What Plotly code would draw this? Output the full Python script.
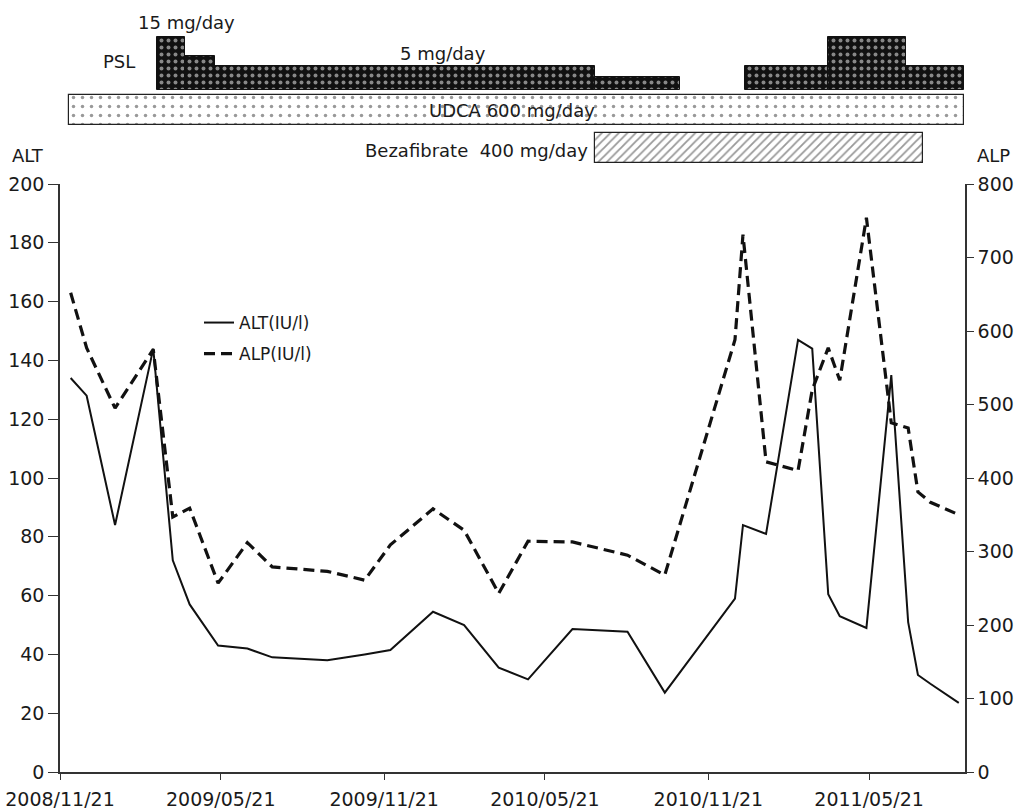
import pandas as pd
import plotly.graph_objects as go

# ---------------- data ----------------
dates = ["2008-12-03", "2008-12-21", "2009-01-22", "2009-03-06", "2009-03-28", "2009-04-07",
         "2009-04-16", "2009-05-18", "2009-06-20", "2009-07-18", "2009-09-18", "2009-10-30",
         "2009-11-28", "2010-01-15", "2010-02-19", "2010-03-30", "2010-05-02", "2010-06-21",
         "2010-08-22", "2010-10-03", "2010-12-21", "2010-12-30", "2011-01-25", "2011-03-02",
         "2011-03-18", "2011-04-05", "2011-04-18", "2011-05-18", "2011-06-15", "2011-07-04",
         "2011-07-15", "2011-07-29", "2011-08-30"]
alt = [134, 128, 84, 144, 72, 64, 57, 43, 42, 39, 38, 40, 41.5, 54.5, 50, 35.5, 31.5, 48.6,
       47.7, 27, 59, 84, 81, 147, 144, 60.5, 53, 49, 135, 51, 33, 30, 23.5]
alp = [652, 577, 495, 575, 347, 353, 359, 257, 312, 279, 273, 261, 309, 358, 329, 243, 314, 313,
       295, 268, 588, 731, 422, 410, 520, 577, 533, 754, 475, 468, 381, 367, 350]

x_ticks = ["2008-11-21", "2009-05-21", "2009-11-21", "2010-05-21", "2010-11-21", "2011-05-21"]
x_tick_labels = ["2008/11/21", "2009/05/21", "2009/11/21", "2010/05/21", "2010/11/21", "2011/05/21"]
x_range = ["2008-11-21", "2011-09-06"]

# PSL periods (start, end) and relative bar height
psl_start = ["2009-03-10", "2009-04-11", "2009-05-14", "2010-07-16", "2011-01-01", "2011-04-05", "2011-07-02"]
psl_end = ["2009-04-11", "2009-05-14", "2010-07-16", "2010-10-20", "2011-04-05", "2011-07-02", "2011-09-05"]
psl_level = [53, 34, 24, 13, 24, 53, 24]

udca_period = ["2008-12-01", "2011-09-05"]
beza_period = ["2010-07-16", "2011-07-21"]

# ---------------- layout helpers ----------------
W, H = 1030, 811
ML, MR, MT, MB = 60, 65, 30, 39
PW, PH = W - ML - MR, H - MT - MB


def px(x):
    return (x - ML) / PW


def py(y):
    return (H - MB - y) / PH


def bar_geom(starts, ends):
    s = pd.to_datetime(starts)
    e = pd.to_datetime(ends)
    w = (e - s) / pd.Timedelta(milliseconds=1)
    c = s + (e - s) / 2
    return [d.strftime("%Y-%m-%d %H:%M:%S") for d in c], list(w)


fig = go.Figure()

# main lines
fig.add_trace(go.Scatter(x=dates, y=alt, mode="lines", name="ALT(IU/l)",
                         line=dict(color="#111111", width=2), legendgroup="a"))
fig.add_trace(go.Scatter(x=dates, y=alp, mode="lines", name="ALP(IU/l)", yaxis="y2",
                         line=dict(color="#111111", width=3.2, dash="11px,6px"), legendgroup="b"))

# top panel bars
cx, wd = bar_geom(psl_start, psl_end)
fig.add_trace(go.Bar(x=cx, width=wd, y=psl_level, base=[80] * len(psl_level),
                     xaxis="x2", yaxis="y3", showlegend=False,
                     marker=dict(color="#111111", line=dict(color="#111111", width=1),
                                 pattern=dict(shape=".", fgcolor="white", bgcolor="#111111",
                                              size=7, solidity=0.25))))
cx, wd = bar_geom([udca_period[0]], [udca_period[1]])
fig.add_trace(go.Bar(x=cx, width=wd, y=[30], base=[45], xaxis="x2", yaxis="y3", showlegend=False,
                     marker=dict(color="white", line=dict(color="#222222", width=1.2),
                                 pattern=dict(shape=".", fgcolor="#333333", bgcolor="white",
                                              size=9, solidity=0.12))))
cx, wd = bar_geom([beza_period[0]], [beza_period[1]])
fig.add_trace(go.Bar(x=cx, width=wd, y=[30], base=[7], xaxis="x2", yaxis="y3", showlegend=False,
                     marker=dict(color="white", line=dict(color="#222222", width=1.2),
                                 pattern=dict(shape="/", fgcolor="#333333", bgcolor="white",
                                              size=6, solidity=0.3))))

FONT = "DejaVu Sans"
tickfont = dict(family=FONT, size=19, color="#1a1a1a")

fig.update_layout(
    width=W, height=H,
    margin=dict(l=ML, r=MR, t=MT, b=MB, autoexpand=False),
    paper_bgcolor="white", plot_bgcolor="white",
    bargap=0, barmode="overlay",
    showlegend=True,
    legend=dict(x=px(199), y=py(305), xanchor="left", yanchor="top",
                font=dict(family=FONT, size=17, color="#1a1a1a"),
                bgcolor="rgba(0,0,0,0)", tracegroupgap=6, itemwidth=30),
    xaxis=dict(type="date", range=x_range, tickvals=x_ticks, ticktext=x_tick_labels,
               showgrid=False, zeroline=False, showline=True, linecolor="#333333", linewidth=1.5,
               ticks="outside", ticklen=6, tickcolor="#333333", tickfont=tickfont,
               ticklabelstandoff=3, anchor="y", automargin=False),
    xaxis2=dict(type="date", matches="x", visible=False, anchor="y3", automargin=False),
    yaxis=dict(range=[0, 200], dtick=20, domain=[0, py(184)], showgrid=False, zeroline=False,
               showline=True, linecolor="#333333", linewidth=1.5, ticks="outside", ticklen=10,
               tickcolor="#333333", tickfont=tickfont, anchor="x", automargin=False),
    yaxis2=dict(range=[0, 800], dtick=100, overlaying="y", side="right", showgrid=False,
                zeroline=False, showline=True, linecolor="#333333", linewidth=1.5,
                ticks="outside", ticklen=7, tickcolor="#333333", tickfont=tickfont, anchor="x",
                automargin=False),
    yaxis3=dict(range=[0, 140], domain=[py(170), 1], visible=False, anchor="x2", automargin=False),
)

ann_font = dict(family=FONT, size=18, color="#1a1a1a")
texts = [
    ("15 mg/day", 186, 22, "center"),
    ("PSL", 119, 62, "center"),
    ("5 mg/day", 443, 53, "center"),
    ("UDCA 600 mg/day", 512, 111, "center"),
    ("Bezafibrate  400 mg/day", 590, 150, "right"),
    ("ALT", 10, 156, "left"),
    ("ALP", 975, 156, "left"),
]
for t, x, y, anc in texts:
    fig.add_annotation(text=t, x=px(x), y=py(y), xref="paper", yref="paper",
                       xanchor=anc, yanchor="middle", showarrow=False, font=ann_font)

fig.write_html("out.html", config={"displayModeBar": False},
               post_script="document.body.style.margin='0';document.body.style.overflow='hidden';")
